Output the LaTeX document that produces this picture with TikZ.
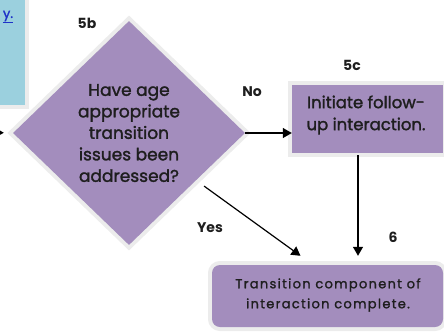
\documentclass[tikz,border=0pt]{standalone}
\usepackage{fontspec}
\setmainfont{Poppins}
\newfontfamily\medf{Poppins}[FakeBold=1.6]
\newfontfamily\medsp{Poppins}[FakeBold=1.4,LetterSpace=10]
\usetikzlibrary{shapes.geometric,arrows.meta}
\definecolor{lav}{RGB}{163,141,189}
\definecolor{skyb}{RGB}{155,208,222}
\definecolor{glow}{RGB}{236,236,236}
\definecolor{linkb}{RGB}{30,50,200}
\definecolor{ink}{RGB}{30,30,30}
\tikzset{
  x=1pt,y=-1pt,
  glowfill/.style={fill=#1,draw=none,preaction={draw=glow,line width=8pt}},
  lbl/.style={font=\fontsize{14}{16}\selectfont\bfseries,text=ink,inner sep=0pt},
  arr/.style={line width=1.2pt,-{Triangle[length=9pt,width=10pt]}},
}
\begin{document}
\begin{tikzpicture}
\useasboundingbox (0,0) rectangle (444,333);
\begin{scope}
\clip (0,0) rectangle (444,333);
% blue box at left
\fill[glowfill=skyb] (-20,-20) rectangle (25,105);
\node[text=linkb,inner sep=0pt,font=\medf\fontsize{13}{15}\selectfont] (lk) at (8,17) {\underline{y.}};
% diamond
\node[diamond,glowfill=lav,minimum width=232pt,minimum height=224pt,inner sep=0pt] (d) at (129,133) {};
\node[align=center,text=ink,inner sep=0pt,font=\medf\fontsize{17}{21.5}\selectfont] (dt) at (129,133)
  {Have age\\appropriate\\transition\\issues been\\addressed?};
% 5c box
\node[glowfill=lav,minimum width=151pt,minimum height=68pt,inner sep=0pt] (c) at (367.5,119) {};
\node[align=center,text=ink,inner sep=0pt,font=\medf\fontsize{16.5}{22}\selectfont] (ct) at (366,115)
  {Initiate follow-\\up interaction.};
% final box
\node[glowfill=lav,rounded corners=8pt,minimum width=231pt,minimum height=62pt,inner sep=0pt] (f) at (327.5,296) {};
\node[align=center,text=ink,inner sep=0pt,font=\medsp\fontsize{13}{20}\selectfont] (ft) at (328,295)
  {Transition component of\\interaction complete.};
% labels
\node[lbl] (l5b) at (87,23) {5b};
\node[lbl] (l5c) at (352,65) {5c};
\node[lbl] (lno) at (252,92) {No};
\node[lbl] (lyes) at (210,228) {Yes};
\node[lbl] (l6) at (393,237) {6};
% connectors
\coordinate (in) at (-30,132);
\draw[arr,shorten >=9pt] (in) -- (d.west);
\draw[arr] (d.east) -- (d.east -| c.west);
\draw[arr,shorten <=2pt,shorten >=9pt] ([xshift=-9.5pt]c.south) -- ([xshift=-9.5pt]c.south |- f.north);
\draw[arr] ([shift={(17,-3)}]d.south east) -- ([shift={(-27,-9)}]f.north);
\end{scope}
\end{tikzpicture}
\end{document}
